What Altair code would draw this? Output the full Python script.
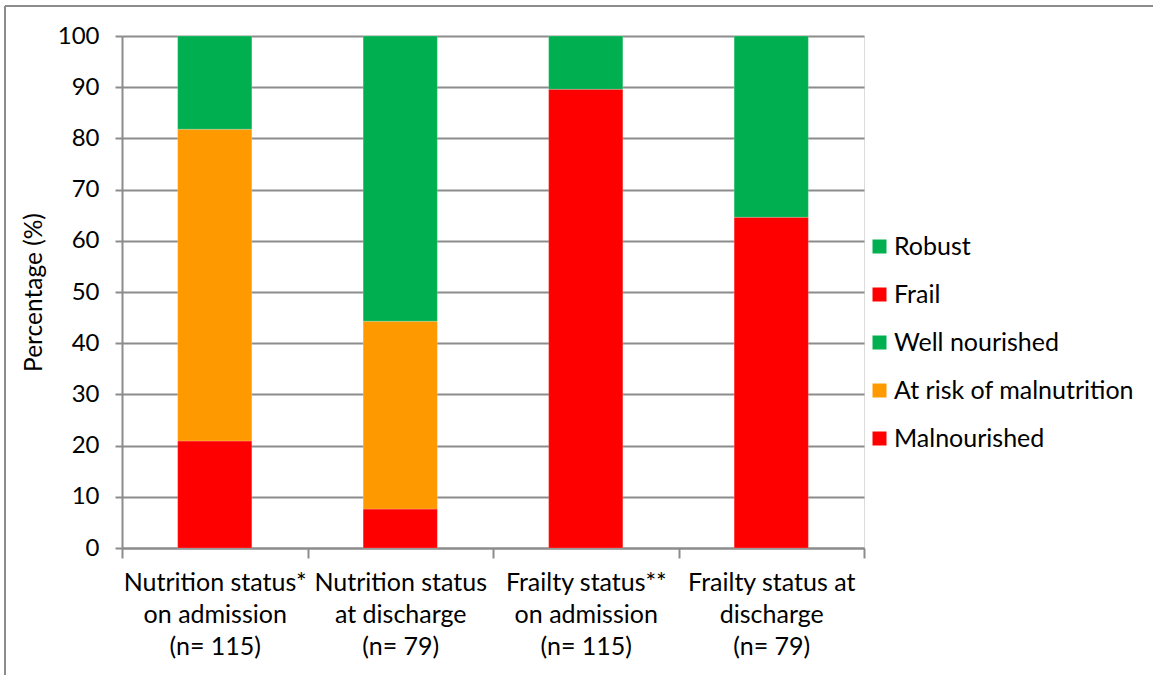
import altair as alt
import pandas as pd

categories = [
    "Nutrition status*|on admission|(n= 115)",
    "Nutrition status|at discharge|(n= 79)",
    "Frailty status**|on admission|(n= 115)",
    "Frailty status at|discharge|(n= 79)",
]
series_names = ["Robust", "Frail", "Well nourished", "At risk of malnutrition", "Malnourished"]
series_colors = ["#00B050", "#FF0000", "#00B050", "#FF9900", "#FF0000"]

malnourished = [20.9, 7.6, None, None]
at_risk = [60.9, 36.7, None, None]
well_nourished = [18.2, 55.7, None, None]
frail = [None, None, 89.6, 64.6]
robust = [None, None, 10.4, 35.4]

rows = []
for i, cat in enumerate(categories):
    for name, vals, order in [
        ("Malnourished", malnourished, 0),
        ("At risk of malnutrition", at_risk, 1),
        ("Well nourished", well_nourished, 2),
        ("Frail", frail, 0),
        ("Robust", robust, 1),
    ]:
        if vals[i] is not None:
            rows.append({"category": cat, "series": name, "value": vals[i], "stackorder": order})
df = pd.DataFrame(rows)

FONT = "Lato"
GRID = "#8c8c8c"

bars = alt.Chart(df).mark_bar(width=alt.RelativeBandSize(0.4), stroke="#ffffff",
                              strokeWidth=0.5, strokeOpacity=0.4).encode(
    x=alt.X("category:N", sort=categories,
            scale=alt.Scale(paddingInner=0, paddingOuter=0),
            axis=alt.Axis(title=None, labelAngle=0, labelExpr="split(datum.label, '|')",
                          labelFont=FONT, labelFontSize=25, labelColor="#000000",
                          labelLineHeight=32, labelPadding=12, labelBaseline="top",
                          labelLimit=400, labelOverlap=False,
                          tickBand="extent", tickSize=10, tickColor=GRID, tickWidth=2,
                          domainColor=GRID, domainWidth=2, grid=False)),
    y=alt.Y("value:Q", stack="zero",
            scale=alt.Scale(domain=[0, 100], nice=False),
            axis=alt.Axis(title="Percentage (%)", values=list(range(0, 101, 10)),
                          titleFont=FONT, titleFontSize=24.5, titleFontWeight="normal",
                          titleColor="#000000", titleX=-76,
                          labelFont=FONT, labelFontSize=24, labelColor="#000000",
                          labelPadding=16, tickSize=7, tickColor=GRID, tickWidth=2,
                          domainColor=GRID, domainWidth=2,
                          grid=True, gridColor=GRID, gridWidth=2)),
    color=alt.Color("series:N",
                    scale=alt.Scale(domain=series_names, range=series_colors),
                    legend=alt.Legend(title=None, orient="none", legendX=745, legendY=198,
                                      symbolType="square", symbolSize=196, symbolStrokeWidth=0,
                                      labelFont=FONT, labelFontSize=25, labelColor="#000000",
                                      labelOffset=2, rowPadding=22, labelLimit=400)),
    order=alt.Order("stackorder:Q", sort="ascending"),
)

frame = alt.Chart(alt.Data(values=[{}]))
top_line = frame.mark_rule(color=GRID, strokeWidth=2).encode(
    x=alt.value(-117), x2=alt.value(1031), y=alt.value(-30))
left_line = frame.mark_rule(color=GRID, strokeWidth=2).encode(
    x=alt.value(-117), y=alt.value(-30), y2=alt.value(639))

chart = alt.layer(bars, top_line, left_line).properties(
    width=742, height=512,
    autosize=alt.AutoSizeParams(type="none"),
    padding={"left": 122, "top": 36, "right": 289, "bottom": 127},
).configure_view(stroke=None).configure(background="#ffffff")

chart.save("out.html", embed_options={"renderer": "svg", "actions": False})
